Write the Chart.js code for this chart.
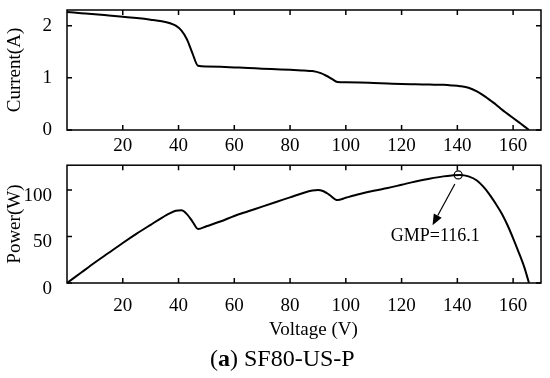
<!DOCTYPE html>
<html>
<head>
<meta charset="utf-8">
<script src="https://cdn.jsdelivr.net/npm/chart.js@4.4.1/dist/chart.umd.min.js"></script>
<style>
  body { margin: 0; background: #fff; }
  #wrap { position: relative; width: 550px; height: 378px; }
  canvas { position: absolute; left: 0; }
  #c_top { top: 0; }
  #c_bot { top: 160px; }
  .txt { position: absolute; font-family: 'Liberation Serif', serif; color: #000; white-space: nowrap; }
  #xtitle { left: 269px; top: 318px; font-size: 19px; line-height: 22px; }
  #caption { left: 210px; top: 344px; font-size: 24px; line-height: 28px; }
</style>
</head>
<body>
<div id="wrap">
  <canvas id="c_top" width="550" height="160"></canvas>
  <canvas id="c_bot" width="550" height="160"></canvas>
  <div class="txt" id="xtitle">Voltage (V)</div>
  <div class="txt" id="caption">(<b>a</b>) SF80-US-P</div>
</div>
<script>
// I-V curve: voltage (V) and current (A)
const currentVoltage = [0, 5, 10, 15, 20, 25, 30, 34, 37, 39, 41, 43, 45, 47, 50, 55, 60, 65, 70, 75, 80, 85, 88, 91, 93, 95, 97,
                        100, 105, 110, 115, 120, 125, 130, 135, 138, 141, 144, 147, 150, 152, 154, 156, 158, 160, 162, 164, 165.7];
const current = [2.26, 2.24, 2.22, 2.195, 2.17, 2.145, 2.115, 2.085, 2.045, 2.00, 1.91, 1.74, 1.47, 1.23, 1.215, 1.21, 1.20, 1.19, 1.175, 1.165, 1.155, 1.14, 1.13, 1.09, 1.04, 0.98, 0.92,
                 0.915, 0.91, 0.90, 0.89, 0.88, 0.875, 0.87, 0.865, 0.855, 0.84, 0.81, 0.74, 0.64, 0.56, 0.48, 0.39, 0.31, 0.23, 0.15, 0.07, 0];
// P-V curve: voltage (V) and power (W)
const powerVoltage = [0, 5, 10, 15, 20, 25, 30, 34, 37, 39, 41, 43, 45, 47, 50, 55, 60, 65, 70, 75, 80, 85, 88, 90, 92, 94, 97,
                      100, 105, 110, 115, 120, 125, 130, 135, 138, 141, 144, 147, 150, 152, 154, 156, 158, 160, 162, 164, 165.7];
const power = [0, 11, 22, 32.5, 43, 53, 62.5, 70, 75, 77.5, 78, 74, 66, 58, 61, 66, 72, 77, 82, 87, 92, 97, 99.3, 100, 98.5, 95, 89,
               91.5, 95.5, 99, 102, 105.5, 109, 112, 114.5, 115.5, 116.1, 114.5, 110, 101, 93, 84, 74, 62, 48, 33, 17, 0];

const xTicks = [20, 40, 60, 80, 100, 120, 140, 160];
const currentTicks = [0, 1, 2];
const powerTicks = [0, 50, 100];

// global maximum power point and its label
const gmp = { v: 140.3, p: 116.1 };
const gmpLabel = 'GMP=116.1';
const gmpLabelAt = { v: 116.1, p: 50 };
const arrowFrom = { v: 139.1, p: 106.4 };
const arrowTo = { v: 131.1, p: 62 };

const serif = 'Liberation Serif';

const framePlugin = {
  id: 'frame',
  afterDatasetsDraw(chart) {
    const { ctx, chartArea: a, scales: { x, y } } = chart;
    ctx.save();
    ctx.strokeStyle = '#000';
    ctx.lineWidth = 1.5;
    ctx.strokeRect(a.left, a.top, a.right - a.left, a.bottom - a.top);
    ctx.beginPath();
    x.ticks.forEach(t => {
      const px = x.getPixelForValue(t.value);
      ctx.moveTo(px, a.bottom); ctx.lineTo(px, a.bottom - 5);
      ctx.moveTo(px, a.top); ctx.lineTo(px, a.top + 5);
    });
    y.ticks.forEach(t => {
      const py = y.getPixelForValue(t.value);
      ctx.moveTo(a.left, py); ctx.lineTo(a.left + 5, py);
      ctx.moveTo(a.right, py); ctx.lineTo(a.right - 5, py);
    });
    ctx.stroke();
    ctx.restore();
  }
};

const gmpPlugin = {
  id: 'gmp',
  afterDatasetsDraw(chart) {
    const { ctx, scales: { x, y } } = chart;
    const x0 = x.getPixelForValue(arrowFrom.v), y0 = y.getPixelForValue(arrowFrom.p);
    const x1 = x.getPixelForValue(arrowTo.v), y1 = y.getPixelForValue(arrowTo.p);
    const ang = Math.atan2(y1 - y0, x1 - x0);
    const len = 11, half = 4.5;
    const bx = x1 - len * Math.cos(ang), by = y1 - len * Math.sin(ang);
    ctx.save();
    ctx.strokeStyle = '#000';
    ctx.fillStyle = '#000';
    ctx.lineWidth = 1.2;
    ctx.beginPath();
    ctx.moveTo(x0, y0);
    ctx.lineTo(bx, by);
    ctx.stroke();
    ctx.beginPath();
    ctx.moveTo(x1, y1);
    ctx.lineTo(bx + half * Math.sin(ang), by - half * Math.cos(ang));
    ctx.lineTo(bx - half * Math.sin(ang), by + half * Math.cos(ang));
    ctx.closePath();
    ctx.fill();
    ctx.font = '18px ' + serif;
    ctx.textAlign = 'left';
    ctx.textBaseline = 'middle';
    ctx.fillText(gmpLabel, x.getPixelForValue(gmpLabelAt.v), y.getPixelForValue(gmpLabelAt.p));
    ctx.restore();
  }
};

// cfg: canvas id, x/y values, y range and ticks, plot top/height inside the canvas, label paddings
function makeChart(cfg) {
  const ctx = document.getElementById(cfg.id).getContext('2d');
  const datasets = [{
    data: cfg.xs.map((v, i) => ({ x: v, y: cfg.ys[i] })),
    borderColor: '#000',
    borderWidth: 2,
    pointRadius: 0,
    fill: false,
    cubicInterpolationMode: 'monotone'
  }];
  if (cfg.extra) datasets.push(cfg.extra);
  return new Chart(ctx, {
    type: 'line',
    data: { datasets: datasets },
    options: {
      responsive: false,
      animation: false,
      layout: { padding: { top: cfg.top, right: 9, left: 0, bottom: 0 } },
      plugins: { legend: { display: false }, tooltip: { enabled: false } },
      scales: {
        x: {
          type: 'linear',
          min: 0,
          max: 170,
          afterBuildTicks: s => { s.ticks = xTicks.map(v => ({ value: v })); },
          afterFit: s => { s.height = 160 - cfg.top - cfg.plotH; s.paddingLeft = 0; s.paddingRight = 0; },
          grid: { display: false },
          border: { display: false },
          ticks: { color: '#000', padding: cfg.xPad, maxRotation: 0, font: { family: serif, size: 19 } }
        },
        y: {
          type: 'linear',
          min: 0,
          max: cfg.yMax,
          afterBuildTicks: s => { s.ticks = cfg.yTicks.map(v => ({ value: v })); },
          afterFit: s => { s.width = 67; s.paddingTop = 0; s.paddingBottom = 0; },
          grid: { display: false },
          border: { display: false },
          ticks: { color: '#000', padding: 7, labelOffset: cfg.yLabelOffset, font: { family: serif, size: 19 } },
          title: { display: true, text: cfg.yTitle, color: '#000', padding: { top: 4, bottom: 0 }, font: { family: serif, size: 19 } }
        }
      }
    },
    plugins: [framePlugin].concat(cfg.extra ? [gmpPlugin] : [])
  });
}

makeChart({
  id: 'c_top', xs: currentVoltage, ys: current, yMax: 2.3, yTicks: currentTicks, yTitle: 'Current(A)',
  top: 10, plotH: 120, xPad: -3.5, yLabelOffset: 0
});
makeChart({
  id: 'c_bot', xs: powerVoltage, ys: power, yMax: 126.5, yTicks: powerTicks, yTitle: 'Power(W)',
  top: 4, plotH: 119, xPad: 3.5, yLabelOffset: 6,
  extra: {
    data: [{ x: gmp.v, y: gmp.p }],
    showLine: false,
    pointStyle: 'circle',
    pointRadius: 4,
    pointBorderWidth: 1.2,
    pointBorderColor: '#000',
    pointBackgroundColor: 'rgba(0,0,0,0)'
  }
});
</script>
</body>
</html>
